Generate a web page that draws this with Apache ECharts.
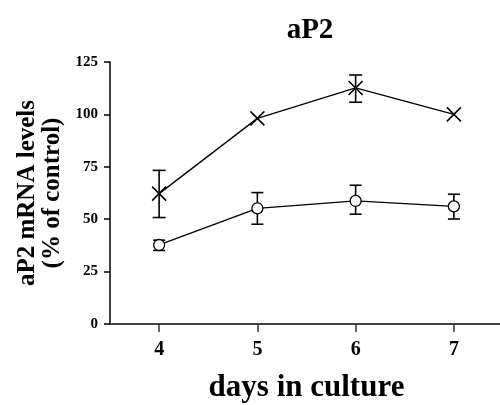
<!DOCTYPE html>
<html>
<head>
<meta charset="utf-8">
<script src="https://cdn.jsdelivr.net/npm/echarts@6/dist/echarts.min.js"></script>
<style>
html,body{margin:0;padding:0;background:#fff;}
#chart{width:500px;height:405px;}
</style>
</head>
<body>
<div id="chart"></div>
<script>
var days = ['4', '5', '6', '7'];
var crossMean = [62.2, 98.1, 112.6, 100.0];
var crossLow  = [50.8, 98.1, 105.8, 100.0];
var crossHigh = [73.3, 98.1, 118.8, 100.0];
var circleMean = [37.7, 55.2, 58.7, 56.1];
var circleLow  = [35.1, 47.6, 52.4, 50.1];
var circleHigh = [40.0, 62.7, 66.2, 61.9];
var yTicks = [0, 25, 50, 75, 100, 125];

var FONT = '"Liberation Serif", "DejaVu Serif", serif';

function errData(lo, hi) { return lo.map(function (v, i) { return [i, v, hi[i]]; }); }

function errRender(capHalf) {
  return function (params, api) {
    var x = api.value(0);
    var lo = api.coord([x, api.value(1)]);
    var hi = api.coord([x, api.value(2)]);
    if (Math.abs(lo[1] - hi[1]) < 1) return null;
    var style = { stroke: '#000', lineWidth: 1.6, fill: null };
    return {
      type: 'group',
      children: [
        { type: 'line', shape: { x1: lo[0], y1: lo[1], x2: hi[0], y2: hi[1] }, style: style },
        { type: 'line', shape: { x1: lo[0] - capHalf, y1: lo[1], x2: lo[0] + capHalf, y2: lo[1] }, style: style },
        { type: 'line', shape: { x1: hi[0] - capHalf, y1: hi[1], x2: hi[0] + capHalf, y2: hi[1] }, style: style }
      ]
    };
  };
}

var chart = echarts.init(document.getElementById('chart'), null, { renderer: 'canvas' });
chart.setOption({
  backgroundColor: '#fff',
  animation: false,
  title: {
    text: 'aP2',
    left: 305, top: 11, textAlign: 'center',
    textStyle: { fontFamily: FONT, fontWeight: 'bold', fontSize: 29, color: '#000' }
  },
  grid: { left: 110, right: -3, top: 62, bottom: 81, containLabel: false, outerBoundsMode: 'none' },
  xAxis: {
    type: 'category', data: days, boundaryGap: true,
    name: 'days in culture', nameLocation: 'middle', nameGap: 48,
    nameTextStyle: { fontFamily: FONT, fontWeight: 'bold', fontSize: 31, color: '#000' },
    axisLine: { lineStyle: { color: '#444', width: 2 } },
    axisTick: { show: true, alignWithLabel: true, length: 8, lineStyle: { color: '#333', width: 1.5 } },
    axisLabel: { fontFamily: FONT, fontWeight: 'bold', fontSize: 20, color: '#000', margin: 16 },
    splitLine: { show: false }
  },
  yAxis: {
    type: 'value', min: 0, max: 125, interval: 25,
    name: 'aP2 mRNA levels\n(% of control)', nameLocation: 'middle', nameGap: 45, nameRotate: 90,
    nameTextStyle: { fontFamily: FONT, fontWeight: 'bold', fontSize: 25, color: '#000', lineHeight: 25 },
    axisLine: { show: true, lineStyle: { color: '#000', width: 1.5 } },
    axisTick: { show: true, length: 6, lineStyle: { color: '#000', width: 1.5 } },
    axisLabel: { fontFamily: FONT, fontWeight: 'bold', fontSize: 15, color: '#000', margin: 12,
      formatter: function (v) { return yTicks.indexOf(v) >= 0 ? String(v) : ''; } },
    splitLine: { show: false }
  },
  series: [
    {
      type: 'custom', name: 'crossErr', renderItem: errRender(6.5),
      data: errData(crossLow, crossHigh), z: 1, silent: true
    },
    {
      type: 'custom', name: 'circleErr', renderItem: errRender(6),
      data: errData(circleLow, circleHigh), z: 1, silent: true
    },
    {
      type: 'line', name: 'cross', data: crossMean, z: 3,
      symbol: 'path://M0,0L10,10M10,0L0,10', symbolSize: 14, showAllSymbol: true,
      lineStyle: { color: '#000', width: 1.3 },
      itemStyle: { color: 'rgba(0,0,0,0)', borderColor: '#000', borderWidth: 1.6 }
    },
    {
      type: 'line', name: 'circle', data: circleMean, z: 3,
      symbol: 'circle', symbolSize: 11, showAllSymbol: true,
      lineStyle: { color: '#000', width: 1.3 },
      itemStyle: { color: '#fff', borderColor: '#000', borderWidth: 1.3 }
    }
  ]
});
</script>
</body>
</html>
